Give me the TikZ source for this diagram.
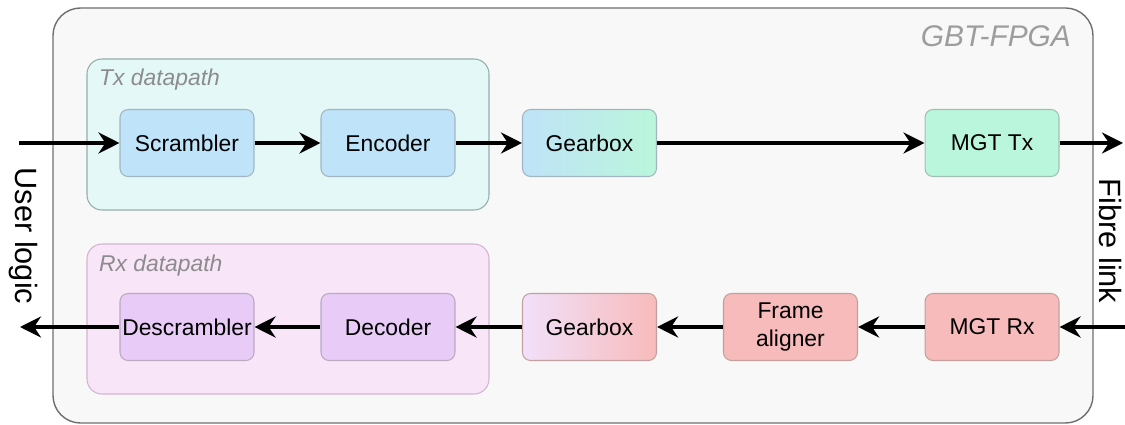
\documentclass[tikz,border=0pt]{standalone}
\usepackage{fontspec}
\setmainfont{Liberation Sans}
\usetikzlibrary{positioning, arrows.meta, calc}
\definecolor{outerfill}{HTML}{F8F8F8}
\definecolor{outerline}{HTML}{6E6E6E}
\definecolor{txfill}{HTML}{E4F8F7}
\definecolor{txline}{HTML}{94AEAC}
\definecolor{rxfill}{HTML}{F8E5F8}
\definecolor{rxline}{HTML}{D2B4D2}
\definecolor{blueblock}{HTML}{BFE3F8}
\definecolor{greenblock}{HTML}{BAF6DB}
\definecolor{purpleblock}{HTML}{E8CCF7}
\definecolor{redblock}{HTML}{F8BBBB}
\definecolor{labelgrey}{HTML}{8C8C8C}

\begin{document}
\begin{tikzpicture}[x=0.02cm, y=-0.02cm,
    block/.style={rounded corners=0.16cm, minimum width=2.68cm, minimum height=1.34cm,
        inner xsep=0.5pt, align=center, line width=0.6pt, font=\fontsize{13}{16}\selectfont},
    flow/.style={line width=1.8pt, -{Stealth[length=12pt, width=12pt, inset=4pt]}},
    tag/.style={text=labelgrey, font=\fontsize{13}{15}\selectfont\itshape, anchor=west},
    side/.style={rotate=-90, font=\fontsize{17.5}{20}\selectfont}]
    \useasboundingbox (0,0) rectangle (1125,425);

    % FPGA frame and datapath groups
    \draw[fill=outerfill, draw=outerline, line width=0.8pt, rounded corners=0.55cm] (53,8) rectangle (1093,423);
    \node[text=labelgrey!85, font=\fontsize{17}{20}\selectfont\itshape, anchor=east] (fpga) at (1077,36) {GBT-FPGA};
    \draw[fill=txfill, draw=txline, line width=0.6pt, rounded corners=0.3cm] (87,59) rectangle (489,210);
    \draw[fill=rxfill, draw=rxline, line width=0.6pt, rounded corners=0.3cm] (87,244) rectangle (489,394);
    \node[tag] (txpath) at (93,80) {Tx datapath};
    \node[tag] (rxpath) at (93,266) {Rx datapath};

    % transmit chain
    \node[block, fill=blueblock, draw=blueblock!55!gray] (scrambler) at (187,143) {Scrambler};
    \node[block, fill=blueblock, draw=blueblock!55!gray] (encoder) at (388,143) {Encoder};
    \node[block, left color=blueblock, right color=greenblock, draw=blueblock!55!gray] (txgear) at (589.5,143) {Gearbox};
    \node[block, fill=greenblock, draw=greenblock!55!gray] (mgttx) at (992,143) {MGT Tx};

    % receive chain
    \node[block, fill=purpleblock, draw=purpleblock!55!gray] (descrambler) at (187,327) {Descrambler};
    \node[block, fill=purpleblock, draw=purpleblock!55!gray] (decoder) at (388,327) {Decoder};
    \node[block, left color=purpleblock!60, right color=redblock, draw=redblock!55!gray] (rxgear) at (589.5,327) {Gearbox};
    \node[block, fill=redblock, draw=redblock!55!gray] (aligner) at (790.5,327) {Frame\\aligner};
    \node[block, fill=redblock, draw=redblock!55!gray] (mgtrx) at (992,327) {MGT Rx};

    \node[side] (user) at (23,236) {User logic};
    \node[side] (fibre) at (1110,241) {Fibre link};

    \coordinate (txin) at (19,143);
    \coordinate (txout) at (1123,143);
    \coordinate (rxin) at (1125,327);
    \coordinate (rxout) at (20,327);

    \draw[flow] (txin) -- (scrambler);
    \draw[flow] (scrambler) -- (encoder);
    \draw[flow] (encoder) -- (txgear);
    \draw[flow] (txgear) -- (mgttx);
    \draw[flow] (mgttx) -- (txout);

    \draw[flow] (rxin) -- (mgtrx);
    \draw[flow] (mgtrx) -- (aligner);
    \draw[flow] (aligner) -- (rxgear);
    \draw[flow] (rxgear) -- (decoder);
    \draw[flow] (decoder) -- (descrambler);
    \draw[flow] (descrambler) -- (rxout);
\end{tikzpicture}
\end{document}
